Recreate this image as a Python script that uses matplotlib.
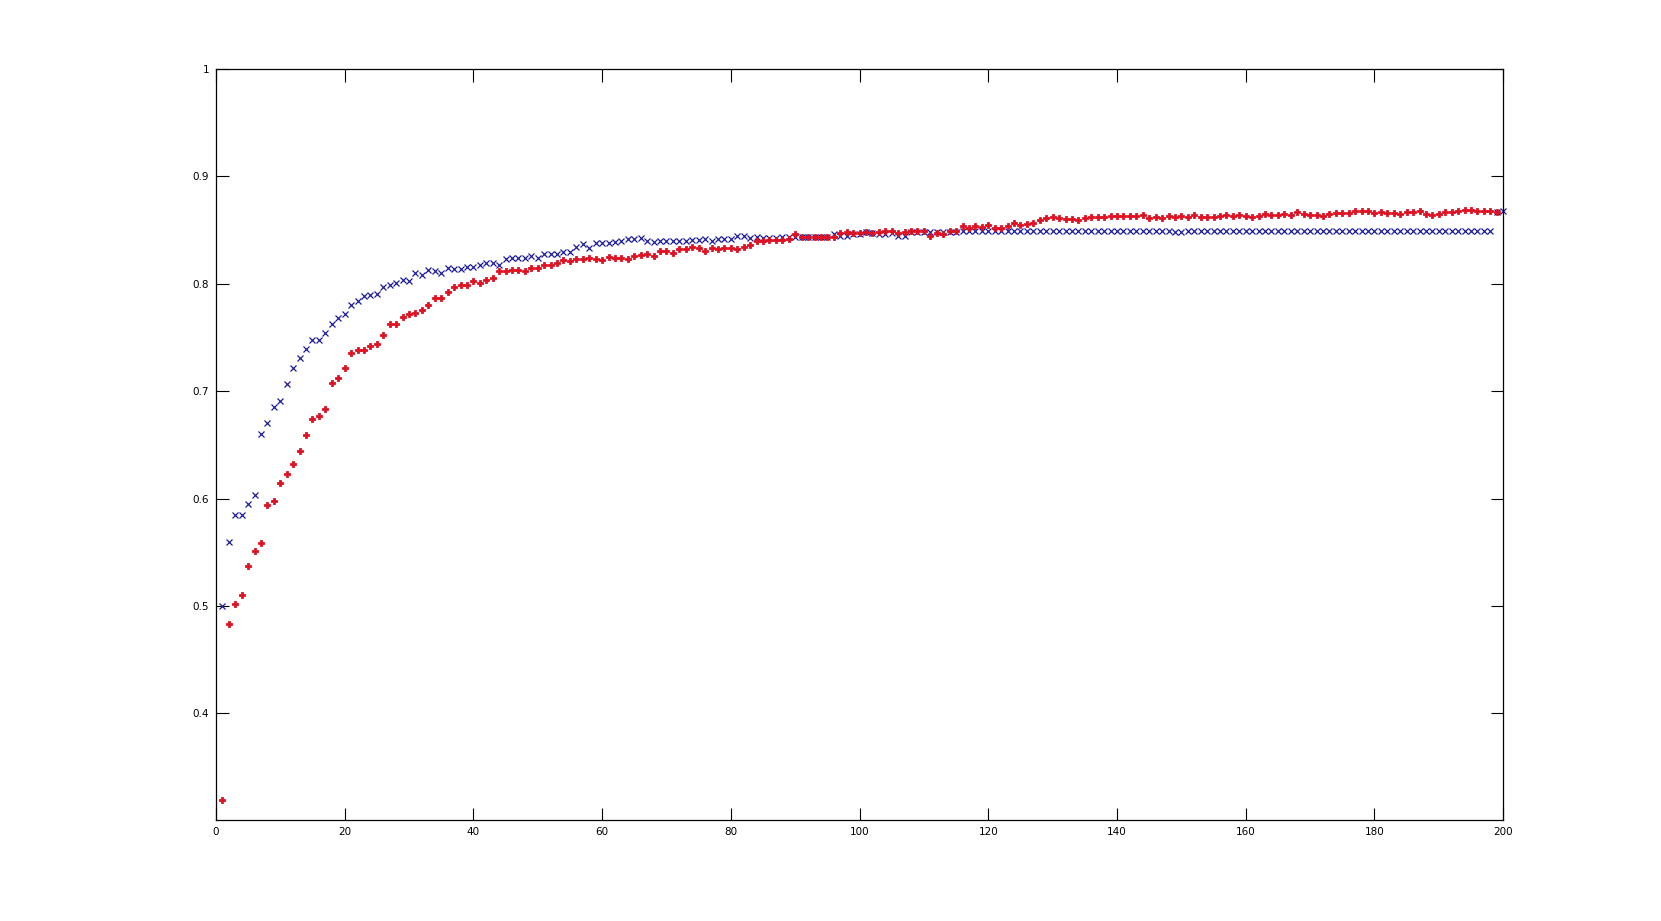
import matplotlib
matplotlib.use("Agg")
import matplotlib.pyplot as plt

# blue 'x' series, x = 1..200
blue = [
    0.500, 0.560, 0.585, 0.585, 0.595, 0.603, 0.660, 0.670, 0.685, 0.691,
    0.707, 0.722, 0.731, 0.739, 0.748, 0.748, 0.754, 0.763, 0.768, 0.772,
    0.780, 0.784, 0.789, 0.790, 0.791, 0.797, 0.799, 0.801, 0.804, 0.803,
    0.810, 0.808, 0.813, 0.812, 0.810, 0.815, 0.814, 0.814, 0.816, 0.816,
    0.818, 0.819, 0.819, 0.818, 0.823, 0.824, 0.824, 0.824, 0.826, 0.824,
    0.828, 0.828, 0.828, 0.830, 0.830, 0.834, 0.837, 0.833, 0.838, 0.838,
    0.838, 0.839, 0.840, 0.842, 0.842, 0.843, 0.840, 0.839, 0.840, 0.840,
    0.840, 0.840, 0.840, 0.841, 0.841, 0.842, 0.840, 0.842, 0.842, 0.842,
    0.845, 0.845, 0.843, 0.844, 0.843, 0.843, 0.843, 0.844, 0.844, 0.844,
    0.844, 0.844, 0.844, 0.844, 0.844, 0.846, 0.845, 0.845, 0.846, 0.846,
    0.848, 0.847, 0.846, 0.846, 0.847, 0.845, 0.845, 0.848, 0.848, 0.848,
    0.848, 0.848, 0.848, 0.848, 0.848, 0.849, 0.849, 0.849, 0.849, 0.849,
    0.849, 0.849, 0.849, 0.849, 0.849, 0.849, 0.849, 0.849, 0.849, 0.849,
    0.849, 0.849, 0.849, 0.849, 0.849, 0.849, 0.849, 0.849, 0.849, 0.849,
    0.849, 0.849, 0.849, 0.849, 0.849, 0.849, 0.849, 0.849, 0.848, 0.848,
    0.849, 0.849, 0.849, 0.849, 0.849, 0.849, 0.849, 0.849, 0.849, 0.849,
    0.849, 0.849, 0.849, 0.849, 0.849, 0.849, 0.849, 0.849, 0.849, 0.849,
    0.849, 0.849, 0.849, 0.849, 0.849, 0.849, 0.849, 0.849, 0.849, 0.849,
    0.849, 0.849, 0.849, 0.849, 0.849, 0.849, 0.849, 0.849, 0.849, 0.849,
    0.849, 0.849, 0.849, 0.849, 0.849, 0.849, 0.849, 0.849, 0.867, 0.868,
]

# red dot series, x = 1..199
red = [
    0.319, 0.483, 0.502, 0.510, 0.537, 0.551, 0.559, 0.594, 0.598, 0.615,
    0.623, 0.632, 0.644, 0.659, 0.674, 0.677, 0.683, 0.708, 0.712, 0.722,
    0.736, 0.738, 0.738, 0.742, 0.744, 0.752, 0.763, 0.763, 0.769, 0.772,
    0.773, 0.776, 0.780, 0.787, 0.787, 0.792, 0.797, 0.799, 0.799, 0.803,
    0.801, 0.804, 0.805, 0.812, 0.812, 0.813, 0.813, 0.812, 0.815, 0.815,
    0.818, 0.818, 0.819, 0.822, 0.821, 0.823, 0.823, 0.824, 0.823, 0.822,
    0.825, 0.824, 0.824, 0.823, 0.826, 0.827, 0.828, 0.826, 0.831, 0.831,
    0.829, 0.832, 0.832, 0.834, 0.833, 0.831, 0.833, 0.832, 0.833, 0.833,
    0.832, 0.834, 0.836, 0.840, 0.840, 0.841, 0.841, 0.841, 0.842, 0.846,
    0.844, 0.844, 0.844, 0.844, 0.844, 0.844, 0.847, 0.848, 0.847, 0.847,
    0.848, 0.847, 0.848, 0.849, 0.849, 0.847, 0.848, 0.849, 0.849, 0.849,
    0.845, 0.847, 0.846, 0.849, 0.849, 0.854, 0.852, 0.854, 0.853, 0.855,
    0.852, 0.852, 0.854, 0.857, 0.855, 0.856, 0.857, 0.859, 0.861, 0.862,
    0.861, 0.860, 0.860, 0.859, 0.861, 0.862, 0.862, 0.862, 0.863, 0.863,
    0.863, 0.863, 0.863, 0.864, 0.861, 0.862, 0.861, 0.863, 0.862, 0.863,
    0.862, 0.864, 0.862, 0.862, 0.862, 0.863, 0.864, 0.863, 0.864, 0.863,
    0.862, 0.863, 0.865, 0.864, 0.864, 0.865, 0.864, 0.867, 0.865, 0.864,
    0.864, 0.863, 0.865, 0.866, 0.866, 0.866, 0.868, 0.868, 0.868, 0.866,
    0.867, 0.866, 0.866, 0.865, 0.867, 0.867, 0.868, 0.865, 0.864, 0.865,
    0.867, 0.867, 0.868, 0.869, 0.869, 0.868, 0.868, 0.868, 0.867,
]

xticks = [0, 20, 40, 60, 80, 100, 120, 140, 160, 180, 200]
yticks = [0.4, 0.5, 0.6, 0.7, 0.8, 0.9, 1]
ytick_labels = ["0.4", "0.5", "0.6", "0.7", "0.8", "0.9", "1"]

fig = plt.figure(figsize=(16.61, 9.21), dpi=100)
ax = fig.add_axes([0.13, 0.11, 0.775, 0.815])

# blue crosses, then red dots on top
ax.plot(range(1, len(blue) + 1), blue, linestyle="none", marker="x",
        markersize=4, markeredgewidth=0.9, color="#1c1c9c", clip_on=False)
ax.plot(range(1, len(red) + 1), red, linestyle="none", marker="P",
        markersize=4.3, markeredgewidth=0.6, color="#dd1122", clip_on=False)

ax.set_xlim(0, 200)
ax.set_ylim(0.301, 1)
ax.set_xticks(xticks)
ax.set_yticks(yticks)
ax.set_yticklabels(ytick_labels)

ax.tick_params(direction="in", length=9, width=0.8, top=True, right=True,
               labelsize=7.5, pad=5)
for s in ax.spines.values():
    s.set_linewidth(0.9)

fig.savefig("out.png", dpi=100)
